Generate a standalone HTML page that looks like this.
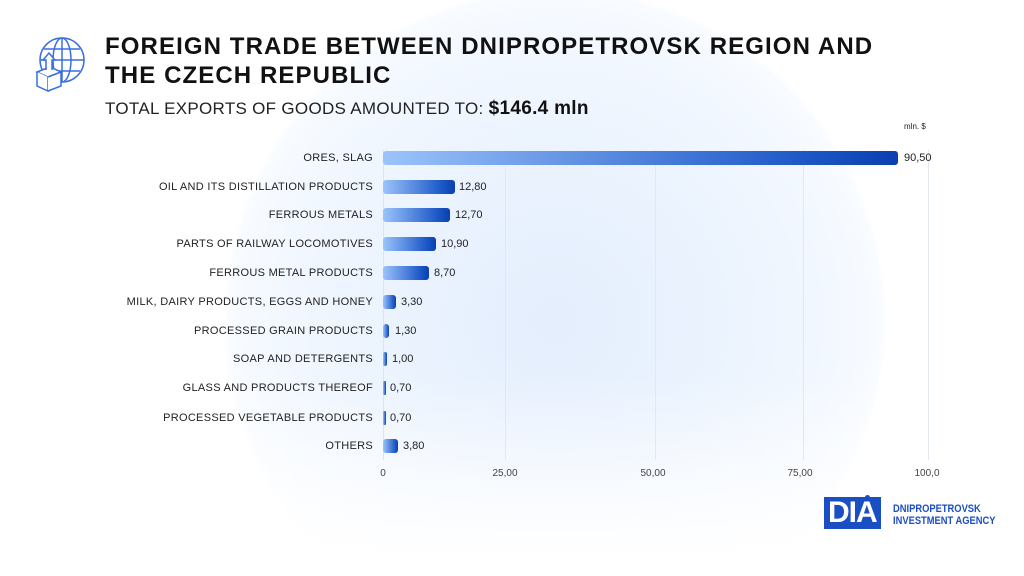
<!DOCTYPE html>
<html><head><meta charset="utf-8"><style>
html,body{margin:0;width:1024px;height:576px;overflow:hidden}
body{background:#fff;font-family:"Liberation Sans",sans-serif}
#w{position:relative;width:1024px;height:576px;overflow:hidden;background:linear-gradient(180deg,rgba(255,255,255,0) 65%,#fff 97%),radial-gradient(circle 332px at 555px 320px,#e4eefd 0%,#ebf3fe 50%,#f3f8ff 85%,#f8fbff 98%,#fff 100%)}
.t{position:absolute;white-space:nowrap}
h1{position:absolute;left:105px;top:32px;margin:0;font-size:24px;line-height:29px;font-weight:bold;color:#111;letter-spacing:1.1px}
.lab{position:absolute;right:651px;font-size:11px;color:#222;white-space:nowrap;transform:translateY(-50%);letter-spacing:0.3px}
.bar{position:absolute;left:383px;height:14px;border-radius:3px;background:linear-gradient(90deg,#9cc4fb,#1f5ac8 80%,#0a3fb0);transform:translateY(-50%)}
.val{position:absolute;font-size:11px;color:#222;transform:translateY(-50%)}
.grid{position:absolute;top:150px;height:310px;width:1px;background:#e3e8ef}
.tick{position:absolute;top:468px;font-size:10px;color:#444;transform:translateX(-50%)}
</style></head><body><div id="w">
<svg style="position:absolute;left:34px;top:36px" width="54" height="56" viewBox="0 0 54 56" fill="none" stroke="#3a6fe0" stroke-width="1.5">
<circle cx="28" cy="24" r="22"/><ellipse cx="28" cy="24" rx="9" ry="22"/><line x1="6" y1="24" x2="50" y2="24"/><line x1="10" y1="13" x2="46" y2="13"/><line x1="10" y1="35" x2="46" y2="35"/><line x1="28" y1="2" x2="28" y2="46"/>
<path d="M3 36 L16 31 L27 36 L14 41 Z" fill="#fff"/><path d="M3 36 V50 L14 55 V41" fill="#fff"/><path d="M14 41 L27 36 V50 L14 55" fill="#fff"/>
<path d="M12 34 V24 H9 L15 17 L21 24 H18 V34" fill="#fff"/></svg>
<h1>FOREIGN TRADE BETWEEN DNIPROPETROVSK REGION AND<br>THE CZECH REPUBLIC</h1>
<div class="t" style="left:105px;top:98px;font-size:17px;color:#222;letter-spacing:0.3px">TOTAL EXPORTS OF GOODS AMOUNTED TO: <b style="font-size:19px;color:#111">$146.4 mln</b></div>
<div class="t" style="left:904px;top:122px;font-size:8px;color:#222">mln. $</div>
<div class="grid" style="left:383px;background:#dfe4ea"></div>
<div class="grid" style="left:505px"></div><div class="grid" style="left:655px"></div><div class="grid" style="left:803px"></div><div class="grid" style="left:928px"></div>
<div class="lab" style="top:158px">ORES, SLAG</div><div class="bar" style="top:158px;width:515px"></div><div class="val" style="top:158px;left:904px">90,50</div>
<div class="lab" style="top:187px">OIL AND ITS DISTILLATION PRODUCTS</div><div class="bar" style="top:187px;width:72px"></div><div class="val" style="top:187px;left:459px">12,80</div>
<div class="lab" style="top:215px">FERROUS METALS</div><div class="bar" style="top:215px;width:67px"></div><div class="val" style="top:215px;left:455px">12,70</div>
<div class="lab" style="top:244px">PARTS OF RAILWAY LOCOMOTIVES</div><div class="bar" style="top:244px;width:53px"></div><div class="val" style="top:244px;left:441px">10,90</div>
<div class="lab" style="top:273px">FERROUS METAL PRODUCTS</div><div class="bar" style="top:273px;width:46px"></div><div class="val" style="top:273px;left:434px">8,70</div>
<div class="lab" style="top:302px">MILK, DAIRY PRODUCTS, EGGS AND HONEY</div><div class="bar" style="top:302px;width:13px"></div><div class="val" style="top:302px;left:401px">3,30</div>
<div class="lab" style="top:331px">PROCESSED GRAIN PRODUCTS</div><div class="bar" style="top:331px;width:6px"></div><div class="val" style="top:331px;left:395px">1,30</div>
<div class="lab" style="top:359px">SOAP AND DETERGENTS</div><div class="bar" style="top:359px;width:4px;border-radius:2px"></div><div class="val" style="top:359px;left:392px">1,00</div>
<div class="lab" style="top:388px">GLASS AND PRODUCTS THEREOF</div><div class="bar" style="top:388px;width:3px;border-radius:1px"></div><div class="val" style="top:388px;left:390px">0,70</div>
<div class="lab" style="top:418px">PROCESSED VEGETABLE PRODUCTS</div><div class="bar" style="top:418px;width:3px;border-radius:1px"></div><div class="val" style="top:418px;left:390px">0,70</div>
<div class="lab" style="top:446px">OTHERS</div><div class="bar" style="top:446px;width:15px"></div><div class="val" style="top:446px;left:403px">3,80</div>
<div class="tick" style="left:383px">0</div><div class="tick" style="left:505px">25,00</div><div class="tick" style="left:653px">50,00</div><div class="tick" style="left:800px">75,00</div><div class="tick" style="left:927px">100,0</div>
<div class="t" style="left:824px;top:497px;font-size:30px;font-weight:bold;color:#fff;background:#1a4fc4;height:32px;line-height:32px;padding:0 4px;letter-spacing:-1px">DIA</div>
<div class="t" style="left:865px;top:495px;width:5px;height:5px;border-radius:50%;background:#1a4fc4"></div>
<div class="t" style="left:893px;top:503px;font-size:11px;line-height:12px;color:#1a4fc4;font-weight:bold;transform:scaleX(0.85);transform-origin:left">DNIPROPETROVSK<br>INVESTMENT AGENCY</div>
</div></body></html>
